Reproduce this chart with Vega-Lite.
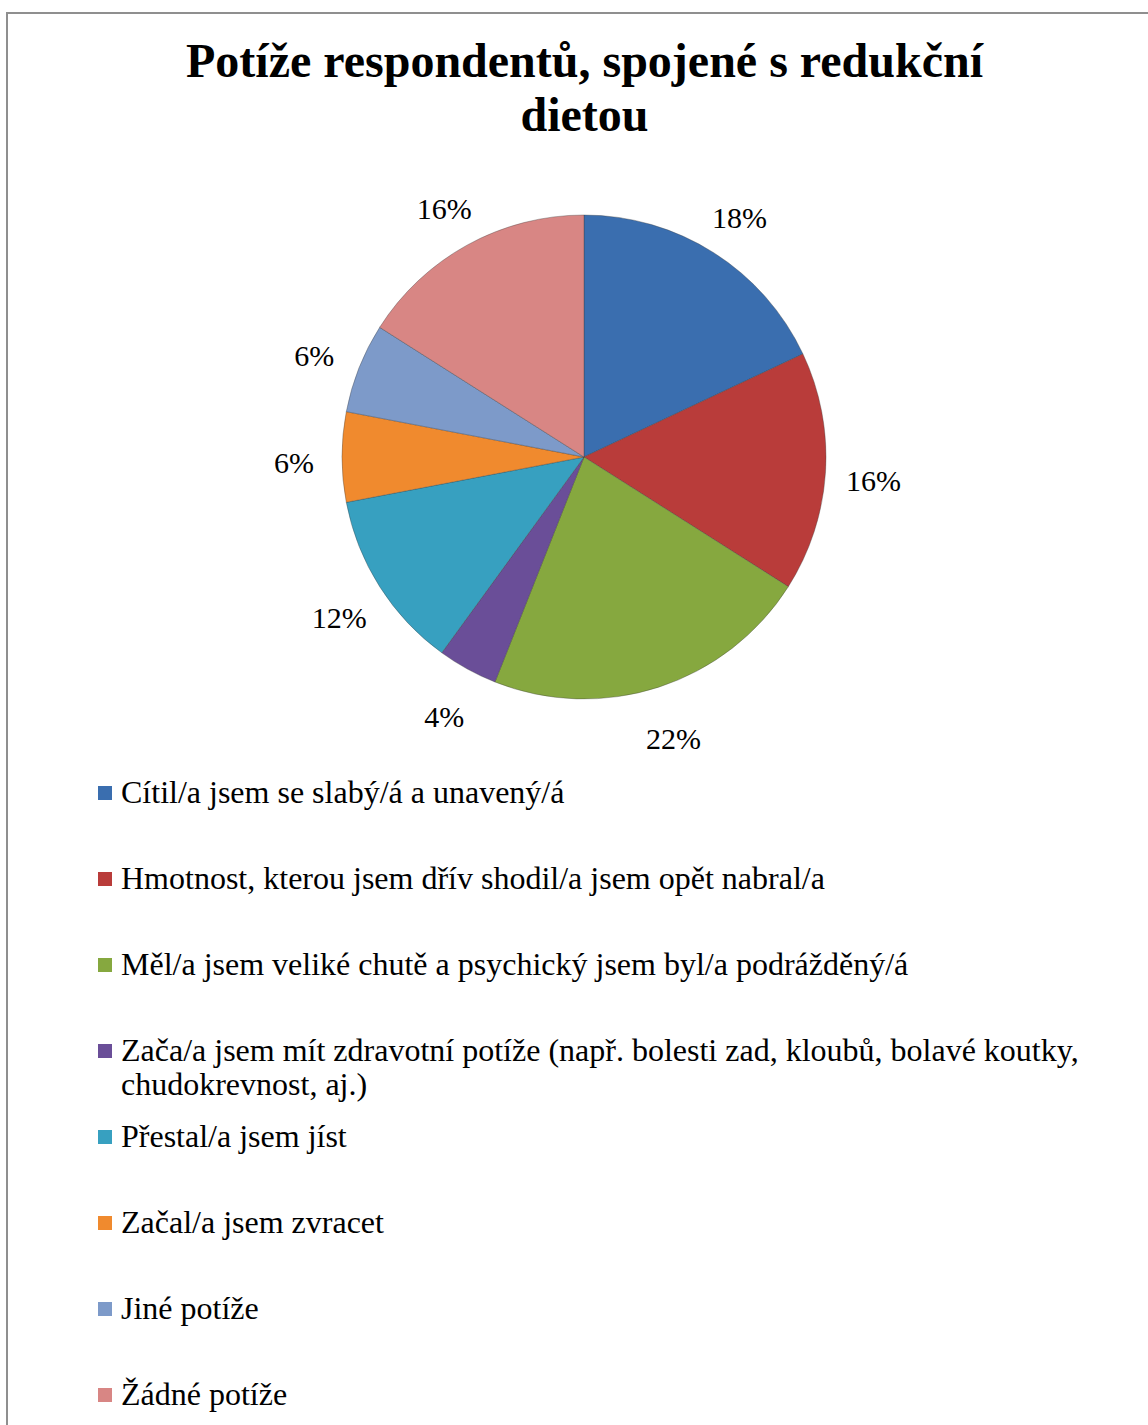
{
  "$schema": "https://vega.github.io/schema/vega-lite/v6.json",
  "width": 1145,
  "height": 1416,
  "autosize": {"type": "none"},
  "padding": {"left": 7, "top": 13, "right": -4, "bottom": -4},
  "background": "#ffffff",
  "config": {
    "view": {"stroke": "#8f8f8f", "strokeWidth": 2},
    "font": "Liberation Serif"
  },
  "title": {
    "text": ["Potíže respondentů, spojené s redukční", "dietou"],
    "font": "Liberation Serif",
    "fontSize": 48,
    "fontWeight": "bold",
    "color": "#000000",
    "anchor": "middle",
    "baseline": "top",
    "lineHeight": 54,
    "offset": -129,
    "dx": 5
  },
  "layer": [
    {
      "data": {"values": [{"frame": 1}]},
      "mark": {"type": "rect", "fill": null, "fillOpacity": 0, "stroke": "#8f8f8f", "strokeWidth": 2},
      "encoding": {}
    },
    {
      "data": {
        "values": [
          {"order": 1, "kategorie": "Cítil/a jsem se slabý/á a unavený/á", "podil": 18},
          {"order": 2, "kategorie": "Hmotnost, kterou jsem dřív shodil/a jsem opět nabral/a", "podil": 16},
          {"order": 3, "kategorie": "Měl/a jsem veliké chutě a psychický jsem byl/a podrážděný/á", "podil": 22},
          {"order": 4, "kategorie": "Zača/a jsem mít zdravotní potíže (např. bolesti zad, kloubů, bolavé koutky, chudokrevnost, aj.)", "podil": 4},
          {"order": 5, "kategorie": "Přestal/a jsem jíst", "podil": 12},
          {"order": 6, "kategorie": "Začal/a jsem zvracet", "podil": 6},
          {"order": 7, "kategorie": "Jiné potíže", "podil": 6},
          {"order": 8, "kategorie": "Žádné potíže", "podil": 16}
        ]
      },
      "transform": [{"calculate": "datum.podil + '%'", "as": "lbl"}],
      "encoding": {
        "theta": {"field": "podil", "type": "quantitative", "stack": true},
        "order": {"field": "order", "type": "quantitative"}
      },
      "layer": [
        {
          "mark": {"type": "arc", "outerRadius": 242, "x": 577, "y": 444, "stroke": "#3a3a3a", "strokeOpacity": 0.35, "strokeWidth": 1},
          "encoding": {
            "color": {
              "field": "kategorie",
              "type": "nominal",
              "scale": {
                "domain": [
                  "Cítil/a jsem se slabý/á a unavený/á",
                  "Hmotnost, kterou jsem dřív shodil/a jsem opět nabral/a",
                  "Měl/a jsem veliké chutě a psychický jsem byl/a podrážděný/á",
                  "Zača/a jsem mít zdravotní potíže (např. bolesti zad, kloubů, bolavé koutky, chudokrevnost, aj.)",
                  "Přestal/a jsem jíst",
                  "Začal/a jsem zvracet",
                  "Jiné potíže",
                  "Žádné potíže"
                ],
                "range": ["#3a6eaf", "#b93c3a", "#86a83f", "#6a4e98", "#37a0c0", "#f08a2e", "#7d9ac9", "#d88684"]
              },
              "legend": {
                "title": null,
                "orient": "none",
                "legendX": 82,
                "legendY": 764,
                "direction": "vertical",
                "padding": 0,
                "symbolType": "square",
                "symbolSize": 196,
                "symbolStrokeWidth": 0,
                "labelFont": "Liberation Serif",
                "labelFontSize": 32,
                "labelColor": "#000000",
                "labelLimit": 1100,
                "labelOffset": 0,
                "labelLineHeight": 36,
                "labelBaseline": "middle",
                "clipHeight": 32,
                "rowPadding": 20,
                "labelExpr": "indexof(datum.label, 'Zača/a') == 0 ? ['Zača/a jsem mít zdravotní potíže (např. bolesti zad, kloubů, bolavé koutky,', 'chudokrevnost, aj.)'] : [datum.label, ' ']"
              }
            }
          }
        },
        {
          "mark": {"type": "text", "radius": 290, "x": 577, "y": 444, "dy": 7, "font": "Liberation Serif", "fontSize": 30, "color": "#000000"},
          "encoding": {
            "text": {"field": "lbl", "type": "nominal"},
            "detail": {"field": "kategorie", "type": "nominal"}
          }
        }
      ]
    }
  ]
}
